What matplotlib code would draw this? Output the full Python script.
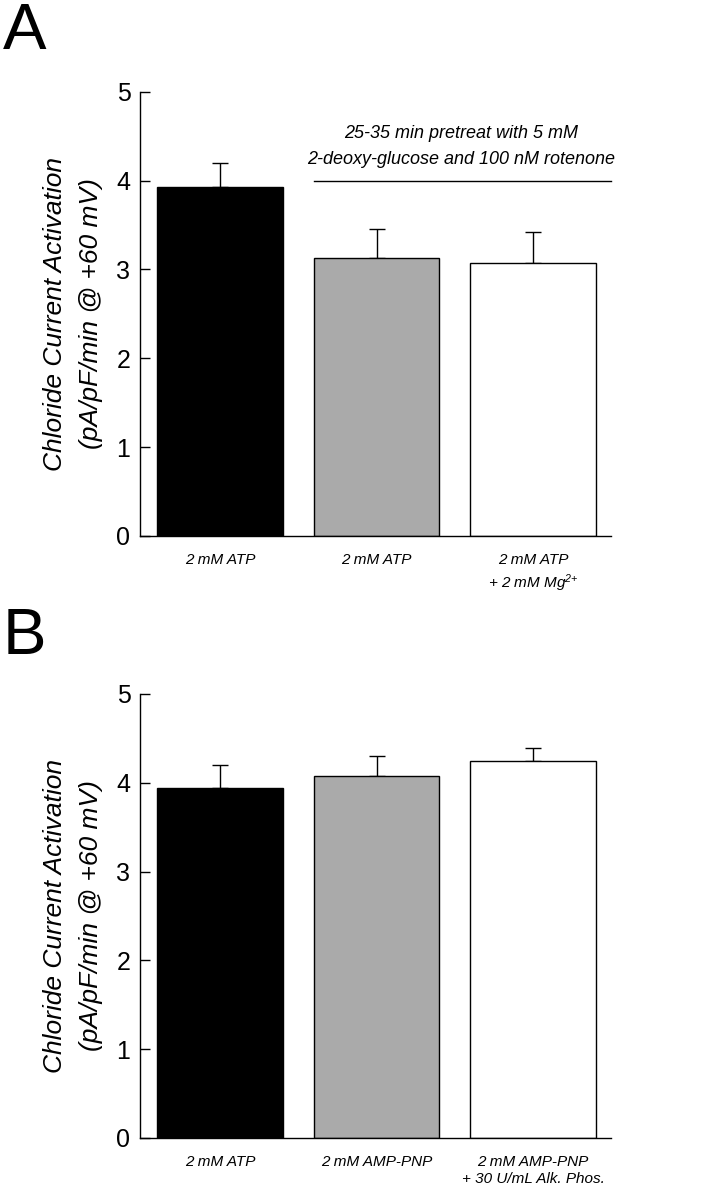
import numpy as np
import matplotlib
matplotlib.use("Agg")
import matplotlib.pyplot as plt

plt.rcParams['font.family'] = ['Liberation Sans', 'DejaVu Sans']
plt.rcParams['mathtext.default'] = 'regular'

# panel A
labels_a = ["2 mM ATP", "2 mM ATP", "2 mM ATP\n+ 2 mM Mg$^{2{+}}$"]
means_a = [3.93, 3.13, 3.07]
sem_a = [0.27, 0.33, 0.35]

# panel B
labels_b = ["2 mM ATP", "2 mM AMP-PNP", "2 mM AMP-PNP\n+ 30 U/mL Alk. Phos."]
means_b = [3.94, 4.08, 4.25]
sem_b = [0.26, 0.22, 0.14]

colors = ["black", "#aaaaaa", "white"]
ylabel = "Chloride Current Activation\n(pA/pF/min @ +60 mV)"
bracket_text = "25-35 min pretreat with 5 mM\n2-deoxy-glucose and 100 nM rotenone"

fig = plt.figure(figsize=(7.15, 11.99), dpi=100)
ax_a = fig.add_axes([0.196, 0.553, 0.659, 0.3705])
ax_b = fig.add_axes([0.196, 0.0509, 0.659, 0.3703])

width = 0.8


def draw_panel(ax, means, sem, labels):
    x = np.arange(len(means))
    ax.bar(x, means, width=width, color=colors, edgecolor="black", linewidth=1.0, zorder=2)
    ax.errorbar(x, means, yerr=[np.zeros(len(sem)), sem], fmt="none", ecolor="black",
                elinewidth=1.0, capsize=5.5, capthick=1.0, zorder=1)
    ax.set_xlim(-0.51, 2.5)
    ax.set_ylim(0, 5)
    ax.set_yticks([0, 1, 2, 3, 4, 5])
    ax.tick_params(axis="y", direction="in", length=7, width=1.0, labelsize=18, pad=7)
    ax.set_xticks(x)
    ax.set_xticklabels(labels, fontsize=11, style="italic", linespacing=1.35)
    ax.tick_params(axis="x", length=0, pad=12)
    for s in ["top", "right"]:
        ax.spines[s].set_visible(False)
    ax.spines["left"].set_linewidth(1.0)
    ax.spines["bottom"].set_linewidth(1.0)
    ax.set_ylabel(ylabel, fontsize=19, style="italic", linespacing=1.6, labelpad=10)


draw_panel(ax_a, means_a, sem_a, labels_a)
draw_panel(ax_b, means_b, sem_b, labels_b)

# panel letters
fig.text(0.004, 1 - 2 / 1199, "A", fontsize=47, ha="left", va="top")
fig.text(0.004, 1 - 607 / 1199, "B", fontsize=47, ha="left", va="top")

# bracket over the pretreated groups
ax_a.plot([1 - width / 2, 2.5], [4.0, 4.0], color="black", lw=1.0, clip_on=False)
ax_a.text(1.5 + 0.04, 4.14, bracket_text, ha="center", va="bottom", fontsize=13,
          style="italic", linespacing=1.7)

fig.savefig("out.png", dpi=100)
